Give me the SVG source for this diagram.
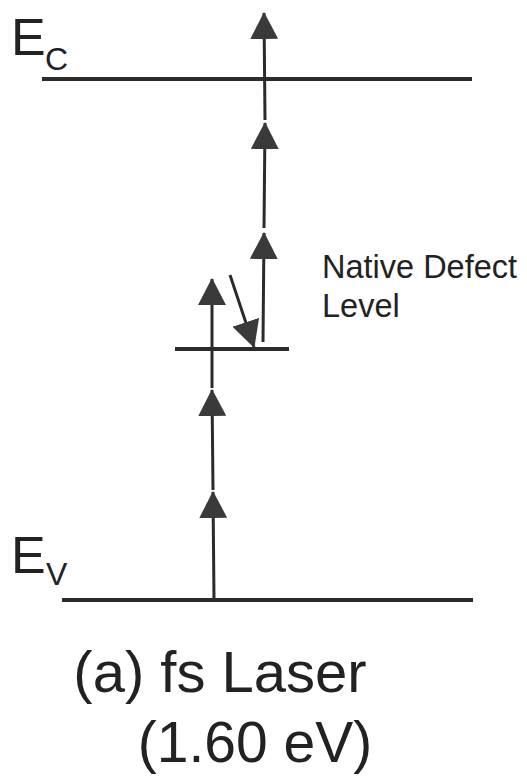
<svg xmlns="http://www.w3.org/2000/svg" width="527" height="776" viewBox="0 0 527 776">
  <style>
    .level { stroke: #2b2b2b; stroke-width: 4; fill: none; }
    .arrow { stroke: #2b2b2b; stroke-width: 3; fill: none; marker-end: url(#head); }
    .lbl { font-family: "Liberation Sans", Arial, sans-serif; fill: #222; }
  </style>
  <defs>
    <marker id="head" markerUnits="userSpaceOnUse" viewBox="0 0 27 28" markerWidth="27" markerHeight="28" refX="26" refY="14" orient="auto">
      <path d="M0,0 L27,14 L0,28 Z" fill="#3a3a3a"/>
    </marker>
  </defs>
  <rect width="527" height="776" fill="#fff"/>

  <g id="Ec">
    <line class="level" x1="42" y1="79" x2="472" y2="79"/>
    <text class="lbl" x="11" y="55" font-size="52">E</text>
    <text class="lbl" x="45" y="70" font-size="32">C</text>
  </g>
  <g id="defect">
    <line class="level" x1="175" y1="349" x2="289" y2="349"/>
    <text class="lbl" x="322" y="278" font-size="32.5">Native Defect</text>
    <text class="lbl" x="322" y="317" font-size="32.5">Level</text>
  </g>
  <g id="Ev">
    <line class="level" x1="62" y1="600" x2="473" y2="600"/>
    <text class="lbl" x="11" y="573" font-size="52">E</text>
    <text class="lbl" x="46" y="585" font-size="32">V</text>
  </g>
  <g id="caption">
    <text class="lbl" x="220" y="692" font-size="58" text-anchor="middle">(a) fs Laser</text>
    <text class="lbl" x="255" y="762" font-size="57" text-anchor="middle">(1.60 eV)</text>
  </g>

  <g id="connectors">
    <line class="arrow" x1="214" y1="600" x2="213" y2="492"/>
    <line class="arrow" x1="213" y1="490" x2="212" y2="390"/>
    <line class="arrow" x1="212" y1="388" x2="212" y2="279"/>
    <line class="arrow" x1="263" y1="342" x2="264" y2="233"/>
    <line class="arrow" x1="264" y1="228" x2="265" y2="123"/>
    <line class="arrow" x1="265" y1="120" x2="264" y2="13"/>
    <line class="arrow" x1="230" y1="275" x2="254" y2="347"/>
  </g>
</svg>
